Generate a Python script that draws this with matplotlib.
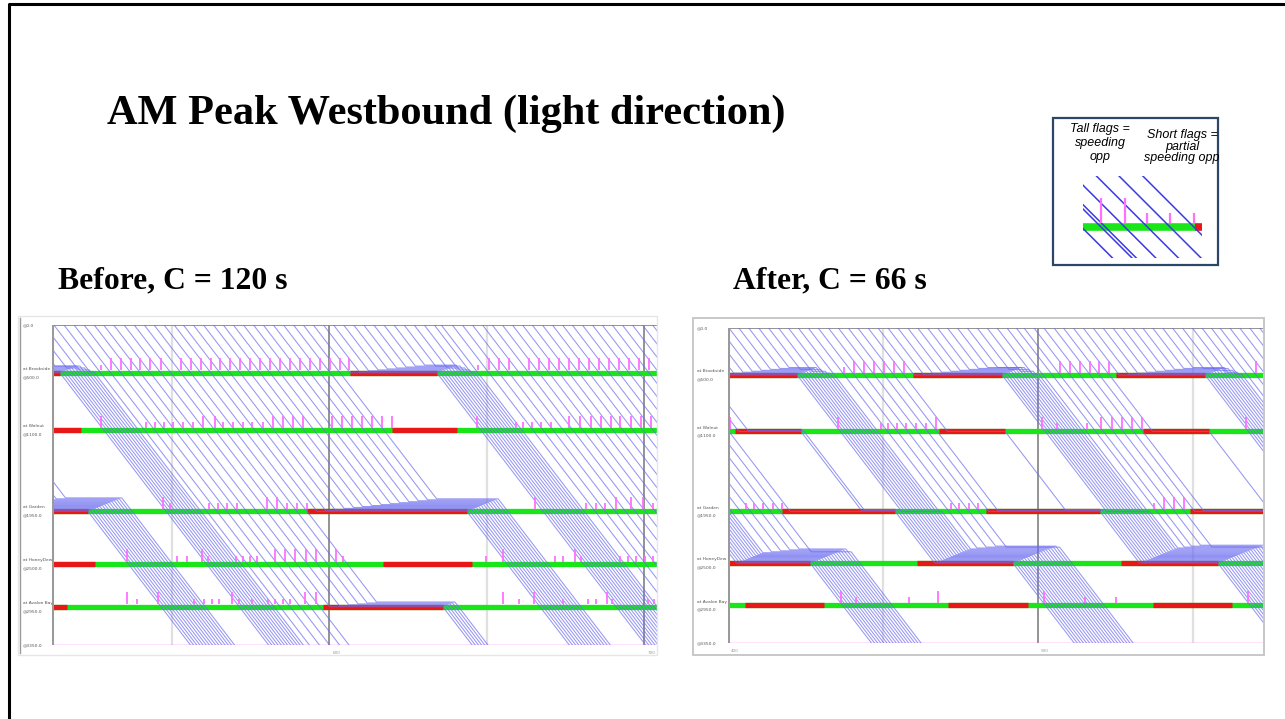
import matplotlib
matplotlib.use("Agg")
import matplotlib.pyplot as plt
from matplotlib.patches import Rectangle
from matplotlib.transforms import blended_transform_factory

W, H = 1285, 719

# ---- corridor ----
STATIONS = [0.0, 500.0, 1100.0, 1950.0, 2500.0, 2950.0, 3350.0]
STATION_NAMES = ["", "at Brookside", "at Walnut", "at Garden", "at HoneyDew", "at Avalon Bay", ""]
SPEED = 43.0        # ft/s
HEADWAY = 1.0       # s, queue discharge
JAM_SPACING = 10.0  # ft per queued vehicle

# ---- before, C = 120 s ----
BEFORE_WINDOW = (512.0, 704.1)
BEFORE_GRID = [550, 650]
BEFORE_GRID_DARK = [600, 700]
BEFORE_ARRIVALS = [429.4, 432.6, 435.8, 439.0, 442.2, 445.4, 448.6, 451.8, 455.0, 458.2,
                   461.4, 464.6, 467.8, 471.0, 474.2, 477.4, 480.6, 483.8, 487.0, 490.2,
                   493.4, 496.6, 499.8, 503.0, 506.2, 509.4, 512.6, 515.8, 519.0, 522.2,
                   525.4, 528.4, 531.6, 534.9, 538.1, 541.3, 544.4, 547.6, 550.8, 553.7,
                   556.9, 560.1, 563.3, 566.4, 569.6, 572.8, 576.0, 579.1, 582.3, 585.5,
                   588.7, 591.8, 595.0, 598.2, 601.4, 604.6, 607.8, 611.0, 614.2, 617.4,
                   620.6, 623.8, 627.0, 630.2, 633.4, 635.6, 639.1, 642.3, 645.5, 648.7,
                   651.8, 655.0, 658.2, 661.4, 664.5, 667.7, 670.9, 674.1, 677.2, 680.4,
                   683.6, 686.7, 689.9, 693.1, 696.3, 699.5, 702.7]
BEFORE_REDS = [
    [(486.5, 514.5), (606.6, 634.2)],   # Brookside
    [(500.5, 521.2), (619.9, 640.6)],   # Walnut
    [(472.5, 523.4), (593.0, 643.7)],   # Garden
    [(497.0, 525.7), (617.1, 645.3)],   # HoneyDew
    [(478.0, 516.8), (598.0, 636.1)],   # Avalon Bay
]
# (time, tall?) per signal
BEFORE_FLAGS = [
    [(527.5, 0), (530.6, 1), (533.8, 1), (537.0, 1), (540.0, 1), (543.2, 1), (546.5, 1),
     (552.9, 1), (556.0, 1), (559.2, 1), (562.4, 1), (565.3, 1), (568.5, 1), (571.7, 1),
     (574.9, 1), (578.0, 1), (581.2, 1), (584.4, 1), (587.6, 1), (590.7, 1), (593.9, 1),
     (597.1, 1), (600.3, 1), (603.4, 1), (606.4, 1), (647.2, 0), (650.7, 1), (653.9, 1),
     (657.1, 1), (663.4, 1), (666.6, 1), (669.8, 1), (673.0, 1), (676.1, 1), (679.3, 1),
     (682.5, 1), (685.7, 1), (688.8, 1), (692.0, 1), (695.2, 1), (698.3, 1), (701.5, 1)],
    [(527.5, 1), (541.7, 0), (544.7, 0), (547.6, 0), (550.5, 0), (553.7, 0), (556.9, 0),
     (560.0, 1), (563.7, 1), (566.4, 0), (569.6, 0), (572.7, 0), (575.6, 0), (578.9, 0),
     (582.1, 1), (585.2, 1), (588.4, 1), (591.6, 1), (600.8, 1), (604.0, 1), (607.1, 1),
     (610.3, 1), (613.5, 1), (616.7, 1), (619.8, 1), (647.1, 1), (659.2, 0), (661.6, 0),
     (664.3, 0), (667.2, 0), (670.3, 0), (676.2, 1), (679.6, 1), (683.0, 1), (686.2, 1),
     (689.4, 1), (692.5, 1), (695.7, 1), (698.9, 1), (702.1, 1)],
    [(547.3, 1), (549.5, 0), (561.9, 0), (564.8, 0), (567.5, 0), (570.6, 0), (580.2, 1),
     (583.3, 1), (586.5, 0), (589.7, 0), (592.9, 0), (665.5, 1), (681.7, 0), (684.7, 0),
     (687.6, 0), (691.0, 1), (696.0, 1), (699.7, 1), (702.8, 0)],
    [(535.7, 1), (551.8, 0), (555.0, 0), (559.5, 1), (561.6, 0), (570.3, 0), (572.5, 0),
     (574.9, 0), (577.2, 0), (582.8, 1), (586.0, 1), (589.1, 1), (592.5, 1), (595.7, 1),
     (602.1, 1), (604.5, 0), (649.8, 0), (655.3, 1), (671.7, 0), (674.3, 0), (678.0, 1),
     (679.9, 0), (692.3, 0), (695.0, 0), (697.4, 0), (700.3, 0), (702.8, 0)],
    [(535.9, 1), (539.1, 0), (545.6, 1), (557.1, 0), (560.3, 0), (562.7, 0), (565.0, 0),
     (569.2, 1), (571.5, 0), (575.6, 0), (580.5, 0), (582.8, 0), (585.2, 0), (587.6, 0),
     (592.3, 1), (595.8, 1), (655.3, 1), (660.3, 0), (665.1, 1), (674.3, 0), (682.3, 0),
     (684.7, 0), (688.1, 1), (689.9, 0), (701.3, 0), (703.1, 0)],
]

# ---- after, C = 66 s ----
AFTER_WINDOW = (400.0, 572.9)
AFTER_GRID = [450, 550]
AFTER_GRID_DARK = [500]
AFTER_ARRIVALS = [320.3, 323.5, 326.7, 329.9, 333.1, 336.3, 339.5, 342.7, 345.9, 349.1,
                  352.3, 355.5, 358.7, 361.9, 365.1, 368.3, 371.5, 374.7, 377.9, 381.1,
                  384.3, 387.5, 390.7, 393.9, 397.1, 400.3, 403.5, 406.7, 409.9, 413.1,
                  416.3, 419.5, 422.7, 425.9, 429.1, 432.4, 435.6, 438.8, 441.9, 445.2,
                  448.4, 451.6, 454.8, 458.0, 461.2, 464.4, 467.6, 470.8, 474.0, 477.2,
                  480.4, 483.6, 486.8, 490.0, 493.0, 495.5, 498.7, 501.9, 505.2, 508.2,
                  511.4, 514.6, 517.8, 521.0, 524.2, 527.4, 530.6, 533.8, 537.0, 540.2,
                  543.4, 546.6, 549.8, 552.9, 555.9, 558.7, 561.9, 565.1, 568.3, 571.5]
AFTER_REDS = [
    [(327.5, 356.3), (393.5, 422.3), (459.7, 488.4), (525.2, 553.9)],
    [(336.3, 357.5), (402.3, 423.5), (468.1, 489.4), (533.9, 555.2)],
    [(351.4, 388.0), (417.4, 453.9), (483.2, 520.0), (549.0, 586.0)],
    [(329.9, 360.5), (395.5, 426.5), (461.0, 491.9), (526.8, 558.0)],
    [(339.5, 365.0), (405.5, 431.0), (471.0, 496.8), (537.1, 562.6)],
]
AFTER_FLAGS = [
    [(437.5, 0), (440.7, 1), (444.0, 1), (447.2, 1), (450.4, 1), (453.5, 1), (456.8, 1),
     (507.1, 1), (510.3, 1), (513.5, 1), (516.8, 1), (519.8, 1), (523.0, 1), (570.3, 1)],
    [(400.6, 1), (435.6, 1), (449.3, 0), (451.7, 0), (454.4, 0), (457.4, 0), (460.6, 0),
     (463.8, 0), (467.0, 1), (501.2, 1), (506.2, 0), (515.9, 0), (520.3, 1), (523.8, 1),
     (527.0, 1), (530.2, 1), (533.5, 1), (567.1, 1)],
    [(405.8, 0), (408.5, 0), (411.4, 0), (414.4, 0), (417.3, 0), (471.9, 0), (474.6, 0),
     (477.6, 0), (480.7, 0), (537.4, 0), (540.7, 1), (543.9, 1), (547.0, 1)],
    [],
    [(436.5, 1), (441.2, 0), (458.5, 0), (467.8, 1), (501.9, 1), (515.2, 0), (525.2, 0),
     (567.8, 1)],
]

# ---- inset legend sketch ----
LEGEND_FLAG_X = [0.15, 0.35, 0.54, 0.73, 0.93]
LEGEND_FLAG_TALL = [1, 1, 0, 0, 0]
LEGEND_RED_START = 0.94

GREEN = "#19e619"
RED = "#e81818"
PINK = "#ff70ff"
TRAJ = "#6a6af0"


def px_axes(fig, x0, y0, x1, y1, **kw):
    return fig.add_axes([x0 / W, 1 - y1 / H, (x1 - x0) / W, (y1 - y0) / H], **kw)


def px_rect(fig, x0, y0, x1, y1, **kw):
    r = Rectangle((x0 / W, 1 - y1 / H), (x1 - x0) / W, (y1 - y0) / H,
                  transform=fig.transFigure, fill=False, **kw)
    fig.add_artist(r)


def px_line(fig, xs, ys, **kw):
    fig.add_artist(plt.Line2D([x / W for x in xs], [1 - y / H for y in ys],
                              transform=fig.transFigure, **kw))


def in_red(t, reds):
    for r0, r1 in reds:
        if r0 <= t < r1:
            return r1
    return None


def simulate(arrivals, reds):
    """Very simple point-queue-with-spacing model, one path per vehicle."""
    paths = [[(t, STATIONS[0])] for t in arrivals]
    t_now = list(arrivals)
    last = len(STATIONS) - 1
    for k in range(1, len(STATIONS)):
        y, y_prev = STATIONS[k], STATIONS[k - 1]
        deps = []
        for i, t in enumerate(t_now):
            ta = t + (y - y_prev) / SPEED
            if k == last:
                paths[i].append((ta, y))
                continue
            dep = ta
            for _ in range(3):
                r = in_red(dep, reds[k - 1])
                if r is not None:
                    dep = r
                if deps:
                    dep = max(dep, deps[-1] + HEADWAY)
            if dep - ta > 0.05:
                qn = sum(1 for d in deps if d > ta)
                ys = y - qn * JAM_SPACING
                t_stop = ta - qn * JAM_SPACING / SPEED
                t_go = dep - qn * JAM_SPACING / SPEED
                if t_go > t_stop:
                    paths[i].append((t_stop, ys))
                    paths[i].append((t_go, ys))
            paths[i].append((dep, y))
            deps.append(dep)
            t_now[i] = dep
    return paths


def draw_panel(fig, ax, window, arrivals, reds, flags, grid, grid_dark, label_x, tick_labels):
    t0, t1 = window
    ax.set_xlim(t0, t1)
    ax.set_ylim(STATIONS[-1], STATIONS[0])
    ax.set_axis_off()

    for g in grid:
        ax.axvline(g, color="#e0e0e0", lw=1.6, zorder=1)
    for g in grid_dark:
        ax.axvline(g, color="#8a8a8a", lw=1.3, zorder=1)
    ax.axvline(t0, color="#9a9a9a", lw=2.2, zorder=6)
    ax.axhline(STATIONS[0], color="#8a8a8a", lw=1.3, zorder=2)
    ax.axhline(STATIONS[-1], color=PINK, lw=1.0, zorder=2)

    # signal bars
    for k, y in enumerate(STATIONS[1:-1]):
        ax.hlines(y, t0, t1, color=GREEN, lw=3.8, zorder=3)
        for r0, r1 in reds[k]:
            ax.hlines(y, r0, r1, color=RED, lw=3.8, zorder=3)

    # trajectories
    for path in simulate(arrivals, reds):
        ts = [p[0] for p in path]
        ys = [p[1] for p in path]
        ax.plot(ts, ys, color=TRAJ, lw=0.75, alpha=0.7, zorder=4)

    # flags
    for k, y in enumerate(STATIONS[1:-1]):
        for t, tall in flags[k]:
            h = 150 if tall else 85
            ax.vlines(t, y - h, y - 24, color=PINK, lw=1.3, zorder=5)

    # station labels in the side strip
    tr = blended_transform_factory(fig.transFigure, ax.transData)
    for name, y in zip(STATION_NAMES, STATIONS):
        if name:
            ax.text(label_x / W, y - 40, name, transform=tr, fontsize=3.2,
                    color="#555555", va="center", ha="left")
            ax.text(label_x / W, y + 45, "@%.1f" % y, transform=tr, fontsize=3.2,
                    color="#555555", va="center", ha="left")
        else:
            ax.text(label_x / W, y, "@%.1f" % y, transform=tr, fontsize=3.2,
                    color="#555555", va="center", ha="left")
    trb = blended_transform_factory(ax.transData, ax.transAxes)
    for t, lab in tick_labels:
        ax.text(t + 1, -0.025, lab, transform=trb, fontsize=3, color="#999999",
                va="center", ha="left", clip_on=False)


fig = plt.figure(figsize=(W / 100, H / 100), dpi=100)
fig.patch.set_facecolor("white")

# slide edge (top and left)
px_line(fig, [9, 9, W], [H, 4, 4], color="black", lw=2.2)

fig.text(107 / W, 1 - 114 / H, "AM Peak Westbound (light direction)",
         family="Liberation Serif", weight="bold", fontsize=30.5, va="center", ha="left")
fig.text(58 / W, 1 - 281 / H, "Before, C = 120 s",
         family="Liberation Serif", weight="bold", fontsize=22.8, va="center", ha="left")
fig.text(733 / W, 1 - 281 / H, "After, C = 66 s",
         family="Liberation Serif", weight="bold", fontsize=22.8, va="center", ha="left")

# panel frames and side strips
px_rect(fig, 18, 316, 657, 655, ec="#e6e6e6", lw=1.0)
px_line(fig, [20, 20], [318, 653], color="#9a9a9a", lw=1.0)
px_rect(fig, 693, 318, 1264, 655, ec="#c8c8c8", lw=1.4)

ax_b = px_axes(fig, 52, 325, 657, 645)
draw_panel(fig, ax_b, BEFORE_WINDOW, BEFORE_ARRIVALS, BEFORE_REDS, BEFORE_FLAGS,
           BEFORE_GRID, BEFORE_GRID_DARK, 23, [(600, "600"), (700, "700")])

ax_a = px_axes(fig, 728, 328, 1264, 643)
draw_panel(fig, ax_a, AFTER_WINDOW, AFTER_ARRIVALS, AFTER_REDS, AFTER_FLAGS,
           AFTER_GRID, AFTER_GRID_DARK, 697, [(400, "400"), (500, "500")])

# legend box
px_rect(fig, 1053, 118, 1218, 265, ec="#2c4666", lw=1.6)
fig.text(1100 / W, 1 - 123 / H, "Tall flags =\nspeeding\nopp", family="Liberation Sans",
         style="italic", fontsize=9, ha="center", va="top", linespacing=1.2)
fig.text(1182 / W, 1 - 129 / H, "Short flags =\npartial\nspeeding opp", family="Liberation Sans",
         style="italic", fontsize=9, ha="center", va="top", linespacing=0.95)

ax_l = px_axes(fig, 1083, 176, 1202, 258)
ax_l.set_xlim(0, 1)
ax_l.set_ylim(1, 0)
ax_l.set_axis_off()
bar_y = 0.62
ax_l.hlines(bar_y, 0, LEGEND_RED_START, color=GREEN, lw=5.5, zorder=2)
ax_l.hlines(bar_y, LEGEND_RED_START, 1, color=RED, lw=5.5, zorder=2)
asp = 82 / 119
for xf, tall in zip(LEGEND_FLAG_X, LEGEND_FLAG_TALL):
    ax_l.plot([xf - bar_y * asp, xf + (1 - bar_y) * asp], [0, 1], color="#3a3ae0", lw=1.1, zorder=3)
    top = 0.27 if tall else 0.45
    ax_l.vlines(xf, top, bar_y - 0.05, color=PINK, lw=1.6, zorder=4)
for xf in LEGEND_FLAG_X[:2]:
    ax_l.plot([xf - 0.35, xf - 0.35 + (1 - 0.35) * asp], [0.35, 1], color="#3a3ae0", lw=1.1, zorder=3)

fig.savefig("out.png", dpi=100)
